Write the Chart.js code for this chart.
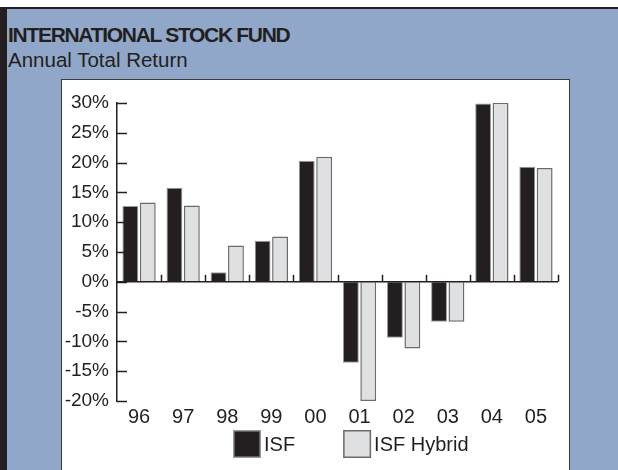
<!DOCTYPE html>
<html>
<head>
<meta charset="utf-8">
<script src="https://cdn.jsdelivr.net/npm/chart.js@4.4.1/dist/chart.umd.min.js"></script>
<style>
    body { margin: 0; background: #fff; font-family: "Liberation Sans", Arial, sans-serif; }
    #frame {
        position: absolute; left: 0; top: 7px; width: 618px; height: 463px;
        box-sizing: border-box; background: #91a7c9;
        border-top: 2px solid #231f20; border-left: 7px solid #231f20;
    }
    #title {
        position: absolute; left: 8px; top: 23px; font-size: 21px; font-weight: bold;
        letter-spacing: -1.3px; color: #231f20; white-space: nowrap;
    }
    #subtitle {
        position: absolute; left: 8px; top: 48px; font-size: 20.5px; color: #231f20; white-space: nowrap;
    }
    #panel {
        position: absolute; left: 61px; top: 79px; width: 509px; height: 391px;
        box-sizing: border-box; background: #fff;
        border: 1px solid #3a3a3a; border-bottom: none;
    }
    #panel canvas { position: absolute; left: 0; top: 0; }
</style>
</head>
<body>
<div id="frame"></div>
<div id="title">INTERNATIONAL STOCK FUND</div>
<div id="subtitle">Annual Total Return</div>
<div id="panel"><canvas id="fundChart" width="507" height="390"></canvas></div>

<script>
// data
const years = ['96', '97', '98', '99', '00', '01', '02', '03', '04', '05'];
const isfReturns = [12.7, 15.8, 1.6, 6.9, 20.3, -13.6, -9.4, -6.7, 29.9, 19.3];
const hybridReturns = [13.3, 12.8, 6.1, 7.6, 21.0, -20.0, -11.2, -6.7, 30.1, 19.1];
const yMin = -20;
const yMax = 30;
const yStep = 5;

const ink = '#231f20';
const fontFamily = '"Liberation Sans", Arial, sans-serif';

// axis decorations: zero line, inward y ticks, category ticks pointing up
const axisMarks = {
    id: 'axisMarks',
    afterDatasetsDraw(chart) {
        const ctx = chart.ctx;
        const area = chart.chartArea;
        const x = chart.scales.x;
        const y = chart.scales.y;
        const y0 = y.getPixelForValue(0);

        ctx.save();
        ctx.strokeStyle = ink;
        ctx.lineWidth = 1.5;

        ctx.beginPath();
        ctx.moveTo(area.left, y0);
        ctx.lineTo(area.right, y0);
        ctx.stroke();

        y.ticks.forEach(t => {
            const py = Math.round(y.getPixelForValue(t.value)) + 0.5;
            ctx.beginPath();
            ctx.moveTo(area.left, py);
            ctx.lineTo(area.left + 10, py);
            ctx.stroke();
        });

        const step = x.getPixelForTick(1) - x.getPixelForTick(0);
        for (let i = 0; i < years.length; i++) {
            const px = Math.round(x.getPixelForTick(i) + step / 2) + 0.5;
            ctx.beginPath();
            ctx.moveTo(px, y0);
            ctx.lineTo(px, y0 - 7);
            ctx.stroke();
        }
        ctx.restore();
    }
};

// legend under the axis labels, drawn from the datasets
const boxLegend = {
    id: 'boxLegend',
    afterDraw(chart) {
        const ctx = chart.ctx;
        const area = chart.chartArea;
        const box = 28;
        const top = chart.height - 40;
        let px = area.left + 116;

        ctx.save();
        ctx.font = '20px ' + fontFamily;
        ctx.textBaseline = 'middle';
        chart.data.datasets.forEach(ds => {
            ctx.fillStyle = ds.backgroundColor;
            ctx.fillRect(px, top, box, box);
            ctx.strokeStyle = ds.borderColor;
            ctx.lineWidth = 1.5;
            ctx.strokeRect(px + 0.75, top + 0.75, box - 1.5, box - 1.5);
            ctx.fillStyle = ink;
            ctx.fillText(ds.label, px + box + 3, top + box / 2 + 1);
            px += box + 3 + ctx.measureText(ds.label).width + 48;
        });
        ctx.restore();
    }
};

const ctx = document.getElementById('fundChart').getContext('2d');
new Chart(ctx, {
    type: 'bar',
    data: {
        labels: years,
        datasets: [
            {
                label: 'ISF',
                data: isfReturns,
                backgroundColor: ink,
                borderColor: '#9a9a9a',
                borderWidth: 1
            },
            {
                label: 'ISF Hybrid',
                data: hybridReturns,
                backgroundColor: '#dfe0e2',
                borderColor: '#6b6b6b',
                borderWidth: 1.5
            }
        ]
    },
    options: {
        responsive: false,
        animation: false,
        devicePixelRatio: 1,
        barPercentage: 0.91,
        categoryPercentage: 0.79,
        layout: { padding: { top: 23, right: 11, bottom: 41, left: 0 } },
        plugins: {
            tooltip: { enabled: false },
            legend: { display: false }
        },
        scales: {
            x: {
                grid: { display: false, drawTicks: false },
                border: { display: false },
                ticks: {
                    color: ink,
                    padding: 4,
                    font: { family: fontFamily, size: 20 }
                },
                afterFit(scale) { scale.height = 28; }
            },
            y: {
                min: yMin,
                max: yMax,
                grid: { drawOnChartArea: false, drawTicks: false },
                border: { display: true, color: ink, width: 1.5 },
                ticks: {
                    stepSize: yStep,
                    padding: 8,
                    color: ink,
                    font: { family: fontFamily, size: 19 },
                    callback: v => v + '%'
                },
                afterFit(scale) { scale.width = 55; }
            }
        }
    },
    plugins: [axisMarks, boxLegend]
});
</script>
</body>
</html>
